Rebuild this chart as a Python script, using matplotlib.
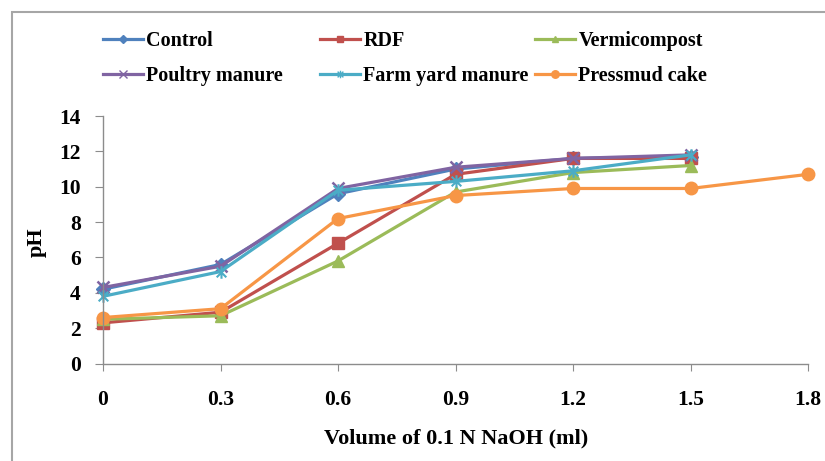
import matplotlib.pyplot as plt
from matplotlib.path import Path
from matplotlib.patches import Rectangle
from matplotlib.lines import Line2D

# volumes of NaOH added (ml)
volume = [0, 0.3, 0.6, 0.9, 1.2, 1.5, 1.8]

control = [4.2, 5.6, 9.6, 11.0, 11.6, 11.7]
rdf = [2.3, 2.9, 6.8, 10.7, 11.6, 11.6]
vermicompost = [2.5, 2.7, 5.8, 9.7, 10.8, 11.2]
poultry = [4.3, 5.5, 9.9, 11.1, 11.6, 11.8]
farmyard = [3.8, 5.2, 9.8, 10.3, 10.9, 11.8]
pressmud = [2.6, 3.1, 8.2, 9.5, 9.9, 9.9, 10.7]

xticks = [0, 0.3, 0.6, 0.9, 1.2, 1.5, 1.8]
yticks = [0, 2, 4, 6, 8, 10, 12, 14]

plt.rcParams['font.family'] = ['Liberation Serif', 'DejaVu Serif']
plt.rcParams['font.weight'] = 'bold'

# asterisk marker like excel (x with vertical bar)
star = Path([(-1, -1), (1, 1), (-1, 1), (1, -1), (0, -1.3), (0, 1.3)],
            [Path.MOVETO, Path.LINETO, Path.MOVETO, Path.LINETO, Path.MOVETO, Path.LINETO])

series = [
    ("Control", control, "#4F81BD", "D", 7, 1),
    ("RDF", rdf, "#C0504D", "s", 8, 1),
    ("Vermicompost", vermicompost, "#9BBB59", "^", 8, 1),
    ("Poultry manure", poultry, "#8064A2", "x", 9, 1.8),
    ("Farm yard manure", farmyard, "#4BACC6", star, 9, 1.5),
    ("Pressmud cake", pressmud, "#F79646", "o", 9, 1),
]

fig = plt.figure(figsize=(8.25, 4.61), dpi=100)
ax = fig.add_axes([103/825, 1-363.5/461, (808-103)/825, (363.5-116)/461])

handles = []
for name, vals, col, mk, ms, mew in series:
    open_mk = (mk == "x") or (mk is star)
    ax.plot(volume[:len(vals)], vals, color=col, lw=2.3, marker=mk, ms=ms,
            mec=col, mfc="none" if open_mk else col,
            mew=mew, label=name, clip_on=False)
    handles.append(Line2D([], [], color=col, lw=2.3, marker=mk, ms=ms*0.6,
                          mec=col, mfc="none" if open_mk else col, mew=1))

ax.set_xlim(0, 1.8)
ax.set_ylim(0, 14)
ax.set_xticks(xticks)
ax.set_xticklabels([str(v) if v != 0 else "0" for v in xticks])
ax.set_yticks(yticks)
for s in ["top", "right"]:
    ax.spines[s].set_visible(False)
for s in ["left", "bottom"]:
    ax.spines[s].set_color("#8C8C8C")
    ax.spines[s].set_linewidth(1)
ax.tick_params(axis="y", direction="out", length=6, color="#8C8C8C", pad=10, labelsize=15.5)
ax.tick_params(axis="x", direction="out", length=5, color="#8C8C8C", pad=14, labelsize=15.5)
for lab in ax.get_xticklabels() + ax.get_yticklabels():
    lab.set_fontweight("bold")

fig.text(37/825, 1-242/461, "pH", rotation=90, ha="center", va="center",
         fontsize=16, fontweight="bold")
fig.text(456/825, 1-438/461, "Volume of 0.1 N NaOH (ml)", ha="center", va="center",
         fontsize=16, fontweight="bold")

# legend: three columns of two rows
cols_x = [103, 320, 535]
for i, cx in enumerate(cols_x):
    h = [handles[i], handles[i+3]]
    l = [series[i][0], series[i+3][0]]
    fig.legend(h, l, loc="upper left", bbox_to_anchor=(cx/825, 1-31/461),
               frameon=False, borderpad=0, borderaxespad=0, handlelength=2.0,
               handletextpad=0.15, labelspacing=0.75,
               prop={"size": 14.5, "weight": "bold"})

# outer gray frame (cut off at right and bottom)
fig.patches.append(Rectangle((12/825, -0.1), 1.2, 1.1-12/461, transform=fig.transFigure,
                             fill=False, edgecolor="#A6A6A6", lw=1.5))

fig.savefig("out.png", dpi=100)
